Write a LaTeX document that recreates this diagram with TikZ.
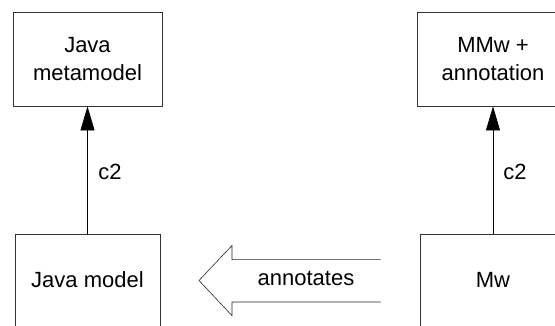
\documentclass[tikz,border=0pt]{standalone}
\usepackage{fontspec}
\setmainfont{Liberation Sans}
\usetikzlibrary{arrows.meta}
\begin{document}
\begin{tikzpicture}[x=1pt,y=-1pt,
  box/.style={draw=black!80,line width=0.8pt,inner sep=0pt,align=center,font=\fontsize{22}{28}\selectfont},
  lbl/.style={font=\fontsize{22}{28}\selectfont,inner sep=0pt},
  inst/.style={draw=black,line width=0.7pt,-{Triangle[length=24pt,width=14pt]}}]
\useasboundingbox (0,0) rectangle (555,325);
\clip (0,0) rectangle (555,325);
\node[box,minimum width=149pt,minimum height=94pt] (jmm) at (87.5,59) {Java\\metamodel};
\node[box,minimum width=152pt,minimum height=94pt] (mmw) at (493,59) {MMw +\\annotation};
\node[box,minimum width=145pt,minimum height=94pt,anchor=north] (jm) at (87.5,234) {};
\node[lbl] (jmt) at (87.5,280) {Java model};
\node[box,minimum width=146pt,minimum height=94pt,anchor=north] (mw) at (493,234) {};
\node[lbl] (mwt) at (493,280) {Mw};
\draw[inst] (jm.north) -- (jmm.south);
\draw[inst] (mw.north) -- (mmw.south);
\node[lbl] (c2a) at (110,172) {c2};
\node[lbl] (c2b) at (515,172) {c2};
\coordinate (a1) at (380.5,259.6);
\coordinate (a2) at (232,259.6);
\coordinate (a3) at (232,245.5);
\coordinate (tip) at (199,280.5);
\coordinate (a5) at (232,315.6);
\coordinate (a6) at (232,302);
\coordinate (a7) at (380.5,302);
\draw[black!85,line width=0.6pt,line join=miter] (a1) -- (a2) -- (a3) -- (tip) -- (a5) -- (a6) -- (a7);
\node[lbl] (ann) at (306,278) {annotates};
\end{tikzpicture}
\end{document}
